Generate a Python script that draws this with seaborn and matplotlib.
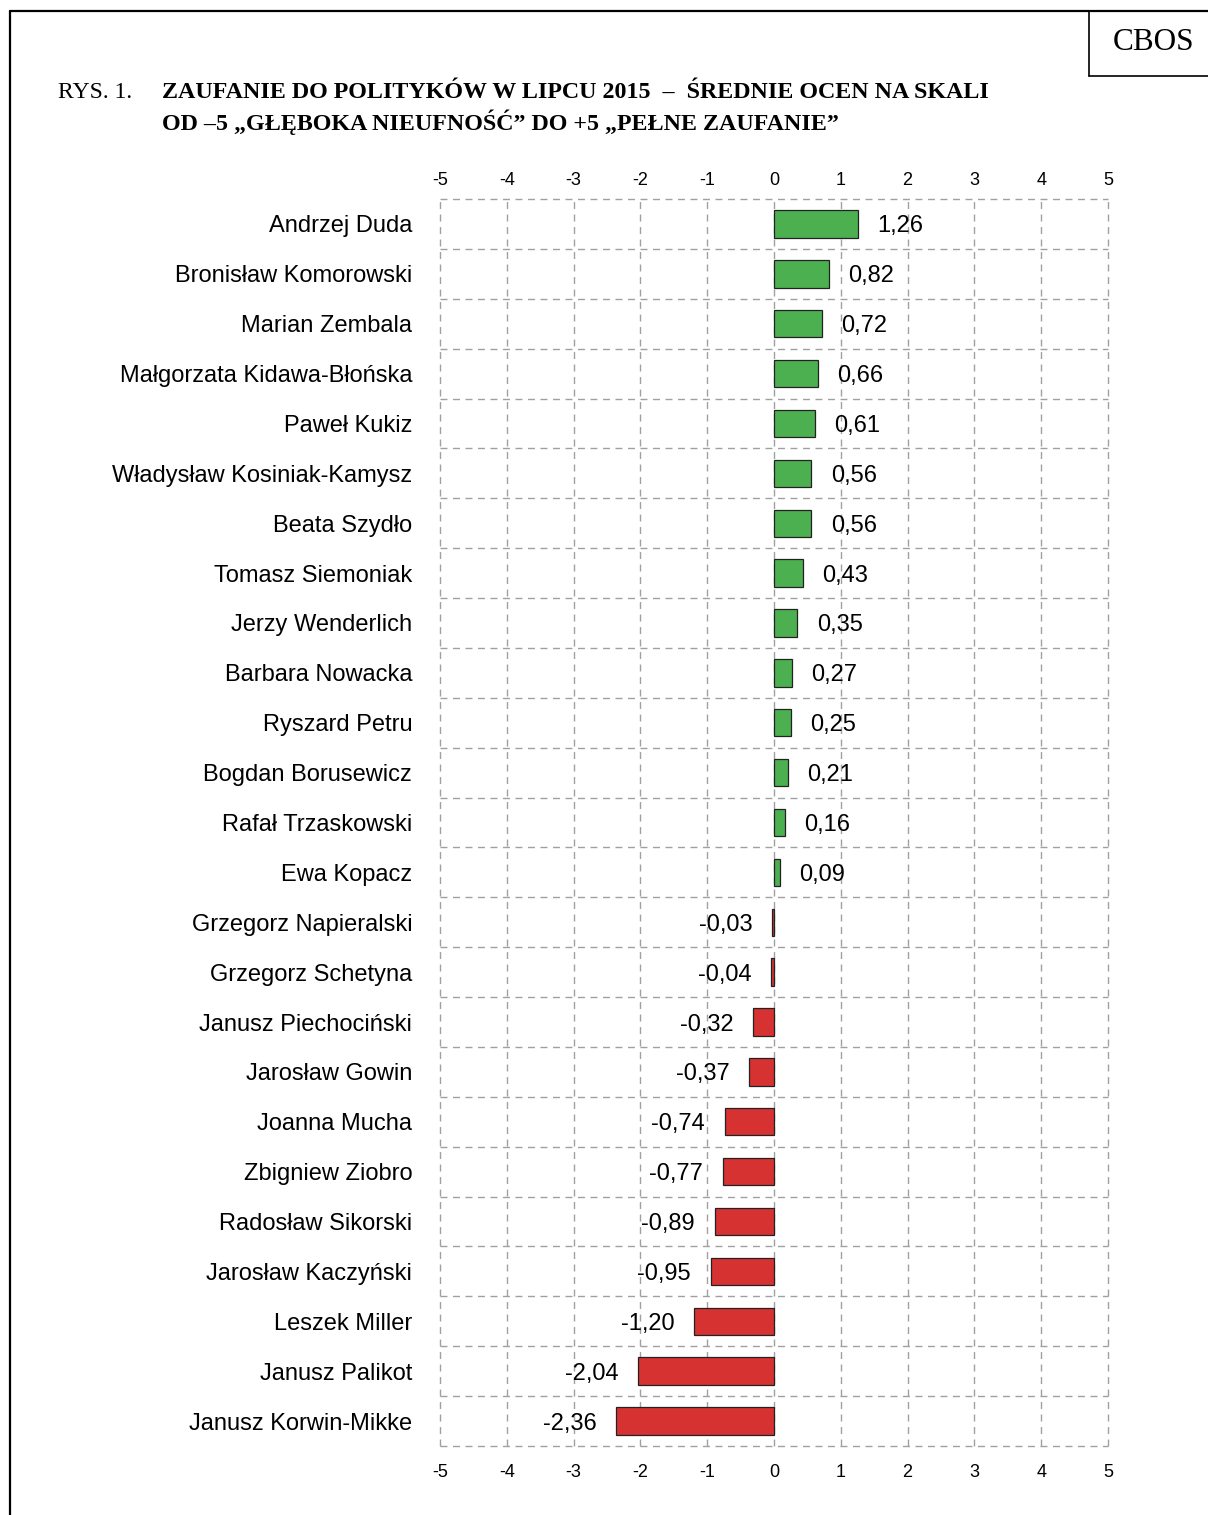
import matplotlib
matplotlib.use("Agg")
import matplotlib.pyplot as plt
from matplotlib.lines import Line2D
import seaborn as sns
import pandas as pd
import numpy as np

names = [
    "Andrzej Duda", "Bronisław Komorowski", "Marian Zembala",
    "Małgorzata Kidawa-Błońska", "Paweł Kukiz", "Władysław Kosiniak-Kamysz",
    "Beata Szydło", "Tomasz Siemoniak", "Jerzy Wenderlich", "Barbara Nowacka",
    "Ryszard Petru", "Bogdan Borusewicz", "Rafał Trzaskowski", "Ewa Kopacz",
    "Grzegorz Napieralski", "Grzegorz Schetyna", "Janusz Piechociński",
    "Jarosław Gowin", "Joanna Mucha", "Zbigniew Ziobro", "Radosław Sikorski",
    "Jarosław Kaczyński", "Leszek Miller", "Janusz Palikot", "Janusz Korwin-Mikke",
]
values = [1.26, 0.82, 0.72, 0.66, 0.61, 0.56, 0.56, 0.43, 0.35, 0.27, 0.25,
          0.21, 0.16, 0.09, -0.03, -0.04, -0.32, -0.37, -0.74, -0.77, -0.89,
          -0.95, -1.20, -2.04, -2.36]
x_ticks = [-5, -4, -3, -2, -1, 0, 1, 2, 3, 4, 5]

title_prefix = "RYS. 1."
title_line1 = "ZAUFANIE DO POLITYKÓW W LIPCU 2015  –  ŚREDNIE OCEN NA SKALI"
title_line2 = "OD –5 „GŁĘBOKA NIEUFNOŚĆ” DO +5 „PEŁNE ZAUFANIE”"
corner_label = "CBOS"

GREEN = "#4caf50"
RED = "#d63232"

sns.set_style("white")
plt.rcParams["font.family"] = ["Liberation Sans", "DejaVu Sans"]
plt.rcParams["text.color"] = "black"
plt.rcParams["xtick.color"] = "black"
plt.rcParams["ytick.color"] = "black"

df = pd.DataFrame({"name": names, "value": values})
df["sign"] = np.where(df["value"] >= 0, "pos", "neg")

W, H = 1208, 1515
fig = plt.figure(figsize=(W / 100, H / 100), dpi=100)
ax = fig.add_axes([440 / W, 1 - 1446 / H, (1108 - 440) / W, (1446 - 199) / H])

sns.barplot(data=df, x="value", y="name", hue="sign",
            palette={"pos": GREEN, "neg": RED}, dodge=False, legend=False,
            saturation=1, width=0.55, edgecolor="#222222", linewidth=0.9,
            ax=ax, zorder=3)

ax.set_xlim(-5, 5)
ax.set_ylim(len(names) - 0.5, -0.5)
ax.set_xticks(x_ticks)
ax.set_xticklabels([str(t) for t in x_ticks])
ax.set_yticks(range(len(names)))
ax.set_yticks(np.arange(-0.5, len(names), 1.0), minor=True)
ax.set_xlabel("")
ax.set_ylabel("")

ax.tick_params(axis="x", which="major", labelsize=13, length=0, pad=13,
               labeltop=False, labelbottom=True, top=False, bottom=False,
               labelcolor="black")
ax.tick_params(axis="y", which="both", labelsize=17, length=0, pad=20,
               labelcolor="black")

sec = ax.secondary_xaxis("top")
sec.set_xticks(x_ticks)
sec.set_xticklabels([str(t) for t in x_ticks])
sec.tick_params(labelsize=13, length=0, pad=7, labelcolor="black")
sec.spines["top"].set_visible(False)

grid_kw = dict(color="#a0a0a0", linewidth=1.0, linestyle=(0, (5, 4)))
ax.grid(False)
ax.xaxis.grid(True, which="major", **grid_kw)
ax.yaxis.grid(True, which="minor", **grid_kw)
ax.set_axisbelow(True)
for t in ax.xaxis.get_major_ticks() + ax.yaxis.get_minor_ticks():
    t.gridline.set_clip_on(False)
for sp in ax.spines.values():
    sp.set_visible(False)

for i, v in enumerate(values):
    label = f"{v:.2f}".replace(".", ",")
    if v >= 0:
        ax.annotate(label, (v, i), xytext=(14, 0), textcoords="offset points",
                    ha="left", va="center_baseline", fontsize=17, zorder=4)
    else:
        ax.annotate(label, (v, i), xytext=(-14, 0), textcoords="offset points",
                    ha="right", va="center_baseline", fontsize=17, zorder=4)

serif = ["Liberation Serif", "DejaVu Serif"]
fig.text(58 / W, 1 - 92 / H, title_prefix, family=serif, fontsize=17,
         ha="left", va="center")
fig.text(162 / W, 1 - 92 / H, title_line1, family=serif, fontsize=17.3,
         fontweight="bold", ha="left", va="center")
fig.text(162 / W, 1 - 122 / H, title_line2, family=serif, fontsize=17.3,
         fontweight="bold", ha="left", va="center")
fig.text(1154 / W, 1 - 42 / H, corner_label, family=serif, fontsize=22.5,
         ha="center", va="center")

def fline(x0, y0, x1, y1, lw=1.6):
    fig.add_artist(Line2D([x0 / W, x1 / W], [1 - y0 / H, 1 - y1 / H],
                          color="black", linewidth=lw))

fline(10, 11, 1208, 11)
fline(10, 11, 10, 1515)
fline(1089, 11, 1089, 76, lw=1.2)
fline(1089, 76, 1208, 76, lw=1.2)

fig.savefig("out.png", dpi=100, facecolor="white")
